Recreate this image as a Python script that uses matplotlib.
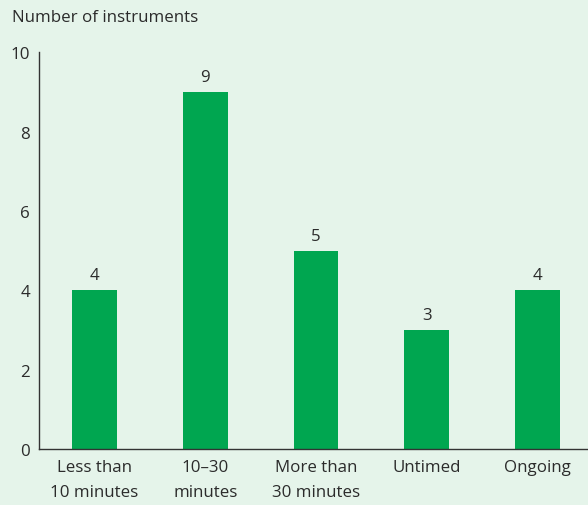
import matplotlib
matplotlib.use("Agg")
import matplotlib.pyplot as plt

categories = ["Less than\n10 minutes", "10\u201330\nminutes", "More than\n30 minutes", "Untimed", "Ongoing"]
values = [4, 9, 5, 3, 4]
yticks = [0, 2, 4, 6, 8, 10]
ylabel = "Number of instruments"

bg = "#E5F4EA"
bar_color = "#00A650"
text_color = "#2b2b2b"
fs = 12.2

plt.rcParams['font.family'] = ['Open Sans', 'DejaVu Sans']

fig = plt.figure(figsize=(5.88, 5.06), dpi=100, facecolor=bg)
ax = fig.add_axes([39/588, 1-450/506, 1-39/588, (450-53.5)/506])
ax.set_facecolor(bg)

x = list(range(len(categories)))
bars = ax.bar(x, values, width=0.406, color=bar_color)
for xi, v in zip(x, values):
    ax.annotate(str(v), (xi, v), xytext=(0, 5), textcoords="offset points",
                ha="center", va="bottom", fontsize=fs, color=text_color)

ax.set_xlim(-0.501, 4.456)
ax.set_ylim(0, 10)
ax.set_yticks(yticks)
ax.set_xticks(x)
ax.set_xticklabels(categories, fontsize=fs, color=text_color, linespacing=1.75)
ax.tick_params(axis='y', length=0, pad=6.5, labelsize=fs, labelcolor=text_color)
ax.tick_params(axis='x', length=0, pad=7)
for lbl in ax.get_yticklabels():
    lbl.set_horizontalalignment('right')

for s in ["top", "right"]:
    ax.spines[s].set_visible(False)
for s in ["left", "bottom"]:
    ax.spines[s].set_color("#333333")
    ax.spines[s].set_linewidth(1.0)

fig.text(12/588, 1-18/506, ylabel, ha="left", va="center", fontsize=fs, color=text_color)

fig.savefig("out.png", dpi=100, facecolor=bg)
